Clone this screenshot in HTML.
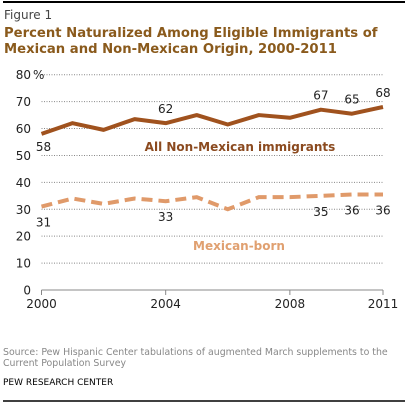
<!DOCTYPE html>
<html><head><meta charset="utf-8"><style>
body{margin:0;background:#fff;width:408px;height:405px;overflow:hidden}
svg{display:block;font-family:"DejaVu Sans","Liberation Sans",sans-serif}
</style></head><body>
<svg width="408" height="405">
<line x1="3" y1="2" x2="405" y2="2" stroke="#000" stroke-width="2"/>
<text x="4" y="19" font-size="12" fill="#444">Figure 1</text>
<text x="4" y="37" font-size="13.2" font-weight="bold" fill="#8a5a1c">Percent Naturalized Among Eligible Immigrants of</text>
<text x="4" y="53" font-size="13.2" font-weight="bold" fill="#8a5a1c">Mexican and Non-Mexican Origin, 2000-2011</text>
<g id="grid"></g>
<g id="axes"></g>
<g id="series"></g>
<text x="240" y="151" font-size="12" font-weight="bold" fill="#8b4a1f" text-anchor="middle">All Non-Mexican immigrants</text>
<text x="239" y="250" font-size="12" font-weight="bold" fill="#e0a070" text-anchor="middle">Mexican-born</text>
<text x="3" y="355" font-size="9.4" fill="#888">Source: Pew Hispanic Center tabulations of augmented March supplements to the</text>
<text x="3" y="366" font-size="9.4" fill="#888">Current Population Survey</text>
<text x="3" y="385" font-size="9" fill="#000">PEW RESEARCH CENTER</text>
<line x1="3" y1="401" x2="405" y2="401" stroke="#000" stroke-width="1.5"/>
</svg>
<script>
const years=[2000,2001,2002,2003,2004,2005,2006,2007,2008,2009,2010,2011];
const nonMexican=[58,62,59.5,63.5,62,65,61.5,65,64,67,65.5,68];
const mexican=[31,34,32,34,33,34.5,30,34.5,34.5,35,35.5,35.5];
const yTicks=[0,10,20,30,40,50,60,70,80];
const xTicks=[2000,2004,2008,2011];
const nonMexLabels=[[2000,58,"58"],[2004,62,"62"],[2009,67,"67"],[2010,65.5,"65"],[2011,68,"68"]];
const mexLabels=[[2000,31,"31"],[2004,33,"33"],[2009,35,"35"],[2010,35.5,"36"],[2011,35.5,"36"]];
const NS="http://www.w3.org/2000/svg";
const xs=y=>41.5+(y-2000)*(383-41.5)/11;
const ys=v=>290-v*(290-74.7)/80;
function mk(t,a,p){const e=document.createElementNS(NS,t);for(const k in a)e.setAttribute(k,a[k]);p.appendChild(e);return e;}
const grid=document.getElementById('grid'),axes=document.getElementById('axes'),ser=document.getElementById('series');
yTicks.forEach(v=>{
 if(v>0){const l=mk('line',{x1:41.5,x2:383,y1:ys(v),y2:ys(v),stroke:'#888','stroke-dasharray':'1,1.5','stroke-width':1},grid);
 
 }
 const t=mk('text',{x:31,y:ys(v)+4.5,'font-size':12,fill:'#222','text-anchor':'end'},axes);
 t.textContent=v;
 
 
});
const pct=mk('text',{x:33,y:ys(80)+4.5,'font-size':12,fill:'#222'},axes);pct.textContent='%';


const xa=mk('line',{x1:41.5,x2:383,y1:290,y2:290,stroke:'#888'},axes);


xTicks.forEach(y=>{
 mk('line',{x1:xs(y),x2:xs(y),y1:290,y2:295,stroke:'#888'},axes);
 const t=mk('text',{x:xs(y),y:308,'font-size':12,fill:'#222','text-anchor':'middle'},axes);
 t.textContent=y;
 
 
});
function path(vals){return vals.map((v,i)=>(i?'L':'M')+xs(years[i])+','+ys(v)).join(' ');}
const p1=mk('path',{d:path(nonMexican),fill:'none',stroke:'#a0521e','stroke-width':4,'stroke-linejoin':'round'},ser);


const p2=mk('path',{d:path(mexican),fill:'none',stroke:'#e09a6a','stroke-width':4,'stroke-dasharray':'11,6'},ser);


nonMexLabels.forEach(([yr,v,s])=>{
 const below=yr===2000;
 const t=mk('text',{x:xs(yr)+(yr===2000?2:0),y:below?ys(v)+17:ys(v)-10,'font-size':12,fill:'#222','text-anchor':'middle'},ser);
 t.textContent=s;
 
 
});
mexLabels.forEach(([yr,v,s])=>{
 const t=mk('text',{x:xs(yr)+(yr===2000?2:0),y:ys(v)+20,'font-size':12,fill:'#222','text-anchor':'middle'},ser);
 t.textContent=s;
 
 
});
</script>
</body></html>
